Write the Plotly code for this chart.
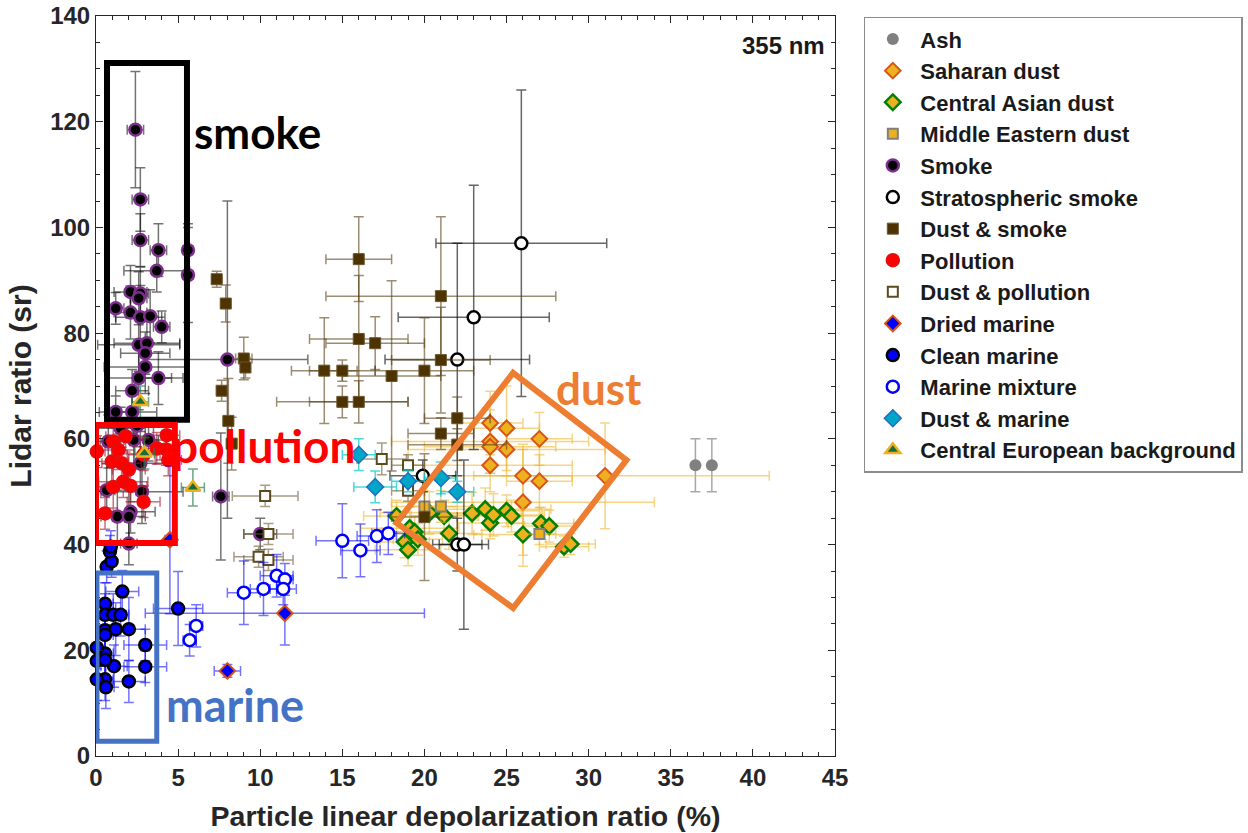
import plotly.graph_objects as go

# ---------------- data ----------------
ash_x = [36.5, 37.5]
ash_y = [55, 55]
ash_xerr = [0, 0]
ash_yerr = [5, 5]

sah_x = [24, 25, 24, 24, 25, 24, 27, 26, 27, 26, 31]
sah_y = [63, 62, 59.5, 58.5, 58, 55, 60, 53, 52, 48, 53]
sah_xerr = [2, 2, 6, 4, 6, 5, 2, 3, 2, 8, 10]
sah_yerr = [6, 8, 6, 5, 5, 5, 5, 6, 5, 10, 10]

cas_x = [18.3, 18.8, 19.0, 19.1, 19.4, 19.6, 20.3, 21.2, 21.5, 22.9, 23.7, 24.0, 24.2, 25.0, 25.3, 26.0, 27.1, 27.6, 28.5, 28.9]
cas_y = [45.4, 40.5, 39.0, 43.1, 42.4, 41.0, 46.0, 45.4, 42.1, 45.9, 46.7, 44.1, 45.6, 46.4, 45.4, 41.9, 44.0, 43.5, 39.6, 40.1]
cas_xerr = [2, 1.5, 2, 3, 2, 1.5, 3, 2, 2, 3, 4, 2, 3, 2, 2, 3, 2, 1.5, 1.5, 1.5]
cas_yerr = [3, 3, 3, 4, 3, 3, 4, 3, 3, 4, 4, 3, 4, 3, 3, 6, 3, 3, 2, 2]

med_x = [20.0, 21.0, 27.0]
med_y = [47.2, 47.2, 42.0]
med_xerr = [2, 2, 1]
med_yerr = [3, 3, 2]

smk_x = [2.4, 2.7, 2.7, 3.8, 5.6, 3.7, 5.6, 2.1, 2.7, 2.6, 1.2, 2.1, 2.7, 3.3, 4.0, 2.6, 3.1, 3.0, 3.0, 3.8,
         2.6, 2.2, 1.2, 2.2, 8.0, 0.75, 2.3, 3.2, 2.7, 0.65, 2.8, 2.1, 1.3, 2.0, 2.0, 7.6, 10.0, 1.5, 2.5]
smk_y = [118.5, 105.3, 97.6, 95.7, 95.7, 91.8, 91.0, 87.8, 87.5, 86.6, 84.7, 83.9, 83.0, 83.2, 81.2, 77.8, 78.1, 76.2, 73.6, 71.5,
         71.5, 69.1, 65.1, 65.1, 75.0, 59.5, 59.8, 59.8, 55.4, 50.3, 50.0, 46.2, 45.3, 45.3, 40.2, 49.1, 42.0, 62.0, 62.5]
smk_xerr = [0.5, 0.5, 0.5, 0.5, 0.3, 2.0, 0.3, 1.0, 0.5, 0.5, 0.5, 1.0, 1.5, 0.5, 0.5, 2.5, 2.0, 1.5, 2.5, 1.5,
            2.0, 1.0, 1.0, 1.5, 4.9, 0.5, 1.5, 1.5, 2.0, 0.5, 2.5, 1.5, 1.0, 1.0, 0.5, 0.5, 1.0, 1.5, 1.0]
smk_yerr = [11, 6, 5, 5, 5, 4, 9, 5, 5, 5, 3, 5, 6, 5, 3, 5, 5, 4, 5, 5,
            6, 4, 3, 4, 30, 5, 5, 4, 6, 5, 6, 4, 5, 5, 4, 12, 3, 4, 4]

str_x = [25.9, 23.0, 22.0, 19.9, 22.0, 22.4]
str_y = [97, 83, 75, 53, 40, 40]
str_xerr = [5.2, 4.6, 4.4, 2, 1.5, 1.5]
str_yerr = [29, 25, 22, 3, 5, 16]

dsm_x = [7.35, 7.9, 9.0, 9.1, 7.65, 8.06, 8.26, 13.9, 15.0, 15.0, 16.0, 16.0, 21.0, 16.0, 17.0, 18.0, 20.0, 21.0, 21.0, 22.0, 22.0, 20.0]
dsm_y = [90.2, 85.6, 75.2, 73.5, 69.1, 63.4, 59.1, 72.9, 72.9, 67.0, 67.0, 94.0, 87.0, 78.9, 78.1, 71.9, 72.9, 74.9, 61.0, 63.9, 58.9, 45.2]
dsm_xerr = [0.3, 0.3, 0.5, 0.3, 0.3, 0.3, 0.3, 2, 2, 4, 3, 2, 7, 3, 3, 3, 3, 3, 2, 2, 3, 2]
dsm_yerr = [1.5, 3.5, 4, 2, 2, 8, 5, 10, 2, 3, 4, 8, 15, 12, 5, 18, 10, 10, 3, 4, 3, 12]

pol_x = [1.05, 1.36, 0.96, 1.56, 2.0, 1.05, 1.66, 2.1, 2.9, 4.3, 4.26, 4.4, 3.7, 0.05, 0.55, 1.8, 2.9]
pol_y = [59.5, 57.9, 55.7, 55.4, 54.2, 50.9, 51.9, 51.1, 48.1, 60.7, 58.0, 56.0, 58.2, 57.6, 45.9, 60.5, 57.0]
pol_xerr = [1, 1, 1, 1.2, 1, 1, 1.5, 1, 1, 0.8, 0.8, 0.8, 1, 0.5, 0.5, 1.2, 1]
pol_yerr = [3, 3, 4, 3, 3, 4, 3, 3, 3, 2, 3, 3, 3, 3, 3, 3, 3]

dpo_x = [17.4, 19.0, 19.0, 10.3, 10.5, 9.9, 10.5]
dpo_y = [56.2, 55.0, 50.2, 49.2, 42.0, 37.7, 37.1]
dpo_xerr = [1.5, 1, 1, 2.0, 1.5, 1.5, 1.5]
dpo_yerr = [3, 2, 2, 2, 2, 2, 2]

drm_x = [4.5, 11.5, 8.0]
drm_y = [40.9, 27.0, 16.1]
drm_xerr = [0.3, 8.5, 0.8]
drm_yerr = [14, 6, 1.2]

clm_x = [1.6, 0.55, 0.55, 1.05, 1.5, 0.55, 1.2, 2.0, 0.55, 3.0, 3.0, 1.1, 0.55, 2.0, 0.55, 0.6, 5.0, 0.65, 0.95, 0.85, 0.9, 0.05, 0.05, 0.05, 0.55]
clm_y = [31.1, 28.8, 26.7, 26.7, 26.7, 23.8, 24.0, 24.0, 22.9, 21.0, 16.9, 17.0, 19.4, 14.1, 14.5, 13.0, 27.9, 35.8, 36.8, 38.7, 39.6, 20.5, 18.0, 14.5, 18.2]
clm_xerr = [1, 0.5, 0.5, 0.8, 0.5, 0.5, 1, 1, 0.5, 1.3, 1.3, 0.8, 0.5, 1, 0.5, 0.5, 1.5, 0.3, 0.3, 0.3, 0.3, 0.3, 0.3, 0.3, 0.5]
clm_yerr = [4, 4, 4, 4, 4, 4, 5, 6, 4, 3, 3, 4, 4, 4, 4, 4, 7, 3, 3, 3, 3, 4, 4, 4, 4]

mmx_x = [15.0, 16.1, 17.1, 17.8, 9.0, 10.2, 11.0, 11.5, 11.4, 6.1, 5.7]
mmx_y = [40.7, 38.9, 41.6, 42.1, 30.9, 31.6, 34.1, 33.4, 31.6, 24.6, 21.9]
mmx_xerr = [1.6, 1.2, 1.2, 1.0, 1.0, 0.8, 1.0, 0.5, 0.8, 0.4, 0.4]
mmx_yerr = [7, 5, 5, 4, 6, 5, 4, 3, 3, 4, 3]

dma_x = [16.0, 17.0, 19.0, 21.0, 22.0]
dma_y = [57.0, 50.9, 52.0, 52.6, 50.0]
dma_xerr = [1, 1.3, 1, 1, 1]
dma_yerr = [3, 3, 2, 3, 2]

ceb_x = [2.7, 2.95, 5.9]
ceb_y = [67.0, 57.3, 50.8]
ceb_xerr = [0.5, 0.6, 0.7]
ceb_yerr = [3, 3, 3.5]

names = ["Ash", "Saharan dust", "Central Asian dust", "Middle Eastern dust", "Smoke",
         "Stratospheric smoke", "Dust & smoke", "Pollution", "Dust & pollution", "Dried marine",
         "Clean marine", "Marine mixture", "Dust & marine", "Central European background"]

series = [
    (ash_x, ash_y, ash_xerr, ash_yerr),
    (sah_x, sah_y, sah_xerr, sah_yerr),
    (cas_x, cas_y, cas_xerr, cas_yerr),
    (med_x, med_y, med_xerr, med_yerr),
    (smk_x, smk_y, smk_xerr, smk_yerr),
    (str_x, str_y, str_xerr, str_yerr),
    (dsm_x, dsm_y, dsm_xerr, dsm_yerr),
    (pol_x, pol_y, pol_xerr, pol_yerr),
    (dpo_x, dpo_y, dpo_xerr, dpo_yerr),
    (drm_x, drm_y, drm_xerr, drm_yerr),
    (clm_x, clm_y, clm_xerr, clm_yerr),
    (mmx_x, mmx_y, mmx_xerr, mmx_yerr),
    (dma_x, dma_y, dma_xerr, dma_yerr),
    (ceb_x, ceb_y, ceb_xerr, ceb_yerr),
]

# ---------------- styles ----------------
# (symbol, size, fill, outline, outline width, error colour)
styles = [
    ("circle", 12, "#808080", "#808080", 0, "rgba(110,110,110,0.6)"),
    ("diamond", 12, "#EDB120", "#D95319", 2, "rgba(237,177,32,0.55)"),
    ("diamond", 12, "#EDB120", "#008000", 2.5, "rgba(237,177,32,0.55)"),
    ("square", 10, "#EDB120", "#7F7F7F", 2, "rgba(237,177,32,0.55)"),
    ("circle", 12, "#000000", "#7E2F8E", 2.5, "rgba(0,0,0,0.55)"),
    ("circle", 12, "#FFFFFF", "#000000", 2.5, "rgba(0,0,0,0.6)"),
    ("square", 11, "#4D3300", "#6B5530", 1, "rgba(90,65,20,0.6)"),
    ("circle", 13, "#FF0000", "#E01010", 1.5, "rgba(162,20,47,0.6)"),
    ("square", 10, "#FFFFFF", "#5C4A1F", 2, "rgba(110,90,50,0.6)"),
    ("diamond", 12, "#0000FF", "#D95319", 2, "rgba(0,0,255,0.55)"),
    ("circle", 12, "#0000FF", "#000000", 2.5, "rgba(0,0,255,0.55)"),
    ("circle", 12, "#FFFFFF", "#0000FF", 2.5, "rgba(0,0,255,0.55)"),
    ("diamond", 13, "#00A6C8", "#1F6FC0", 1.5, "rgba(0,200,200,0.7)"),
    ("triangle-up", 13, "#1E6B3A", "#EDB120", 2.5, "rgba(40,130,80,0.7)"),
]

fig = go.Figure()
for name, (sx, sy, sxe, sye), (sym, size, fill, edge, ew, ecol) in zip(names, series, styles):
    fig.add_trace(go.Scatter(
        x=sx, y=sy, mode="markers", name=name,
        cliponaxis=False,
        marker=dict(symbol=sym, size=size, color=fill, line=dict(color=edge, width=ew)),
        error_x=dict(type="data", array=sxe, visible=True, color=ecol, thickness=1.5, width=5),
        error_y=dict(type="data", array=sye, visible=True, color=ecol, thickness=1.5, width=5),
    ))

# region outlines
fig.add_shape(type="rect", x0=0.67, x1=5.54, y0=63.6, y1=131.1, line=dict(color="black", width=6))
fig.add_shape(type="rect", x0=0.0, x1=4.8, y0=40.3, y1=62.6, line=dict(color="#FF0000", width=6))
fig.add_shape(type="rect", x0=0.06, x1=3.7, y0=2.8, y1=34.6, line=dict(color="#4472C4", width=5))
fig.add_shape(type="path", path="M 25.4 72.5 L 32.3 56.0 L 25.4 28.0 L 18.3 44.1 Z",
              line=dict(color="#ED7D31", width=6))

ann_font = "Lato"
fig.add_annotation(x=9.83, y=118, text="smoke", showarrow=False,
                   font=dict(family=ann_font, size=44, color="black", weight="bold"))
fig.add_annotation(x=10.2, y=58.8, text="pollution", showarrow=False,
                   font=dict(family=ann_font, size=46, color="#FF0000", weight="bold"))
fig.add_annotation(x=8.47, y=9.6, text="marine", showarrow=False,
                   font=dict(family=ann_font, size=45, color="#4472C4", weight="bold"))
fig.add_annotation(x=30.6, y=69.6, text="dust", showarrow=False,
                   font=dict(family=ann_font, size=44, color="#ED7D31", weight="bold"))
fig.add_annotation(x=1, y=1, xref="paper", yref="paper", xanchor="right", yanchor="top",
                   xshift=-8, yshift=-14, text="355 nm", showarrow=False,
                   font=dict(family="Liberation Sans, Arial", size=24, color="#1a1a1a", weight="bold"))

axis_common = dict(
    showline=True, linecolor="#262626", linewidth=1, mirror="allticks",
    ticks="inside", ticklen=7, tickcolor="#262626", showgrid=False, zeroline=False,
    tickfont=dict(family="Liberation Sans, Arial", size=24, color="#262626", weight="bold"),
)

fig.update_xaxes(range=[0, 45], dtick=5, tick0=0,
                 minor=dict(dtick=1, ticks="inside", ticklen=4, tickcolor="#262626"),
                 title=dict(text="Particle linear depolarization ratio (%)", standoff=16,
                            font=dict(family="Liberation Sans, Arial", size=28.5, color="#262626", weight="bold")),
                 **axis_common)
fig.update_yaxes(range=[0, 140], dtick=20, tick0=0,
                 minor=dict(dtick=5, ticks="inside", ticklen=4, tickcolor="#262626"),
                 title=dict(text="Lidar ratio (sr)", standoff=9,
                            font=dict(family="Liberation Sans, Arial", size=30, color="#262626", weight="bold")),
                 **axis_common)

fig.update_layout(
    width=1248, height=833,
    margin=dict(l=96, r=413, t=16, b=77, autoexpand=False),
    paper_bgcolor="white", plot_bgcolor="white",
    legend=dict(x=1.039, y=0.999, xanchor="left", yanchor="top",
                bgcolor="white", bordercolor="#8c8c8c", borderwidth=1.5,
                tracegroupgap=0, itemwidth=45,
                font=dict(family="Liberation Sans, Arial", size=22, color="#1a1a1a", weight="bold")),
)

fig.write_html("out.html")
